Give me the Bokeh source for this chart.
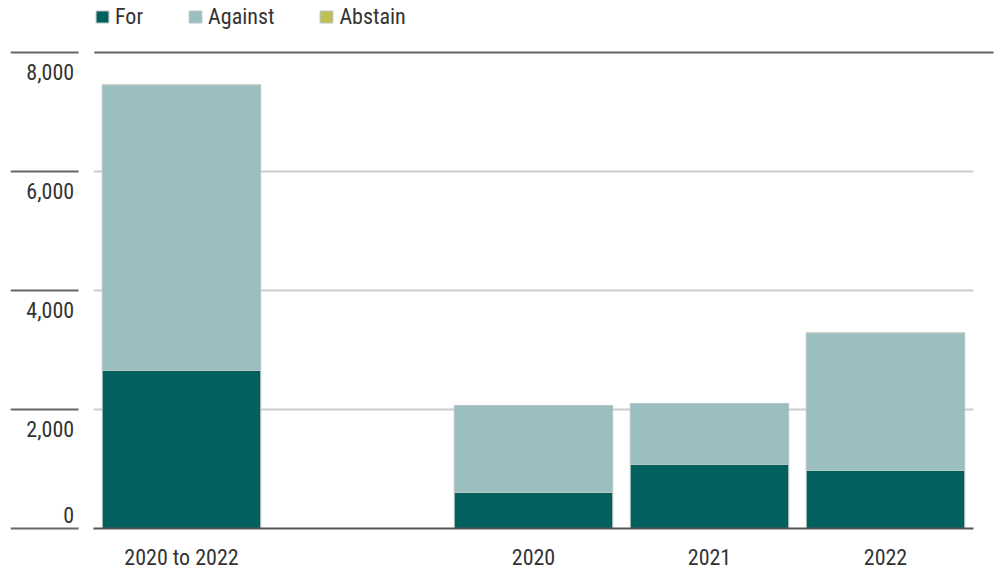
from bokeh.plotting import figure
from bokeh.models import ColumnDataSource, Range1d, FactorRange, Grid, FixedTicker
from bokeh.core.properties import value
from bokeh.embed import file_html
from bokeh.resources import INLINE

# ---- data ----
categories = ["2020 to 2022", "2020", "2021", "2022"]
axis_factors = ["2020 to 2022", " ", "2020", "2021", "2022"]
for_votes = [2656, 605, 1076, 975]
against_votes = [4789, 1462, 1025, 2302]
abstain_votes = [12, 0, 0, 12]
series = ["For", "Against", "Abstain"]
y_ticks = [0, 2000, 4000, 6000, 8000]
y_tick_labels = ["0", "2,000", "4,000", "6,000", "8,000"]

FONT = "'Liberation Sans Narrow', 'Roboto Condensed', 'Noto Sans Condensed', 'Open Sans Condensed', Roboto, sans-serif"
TEXT_COLOR = "#333333"
colors = ["#02605f", "#9bbec0", "#bec150"]

# plot frame reaches the top of the page so the legend sits inside it;
# the 8,000 rule sits 52px below the top, 476px above the baseline
PLOT_H = 528
Y_MAX = y_ticks[-1] * PLOT_H / 476.0

src = ColumnDataSource(dict(cat=categories, For=for_votes, Against=against_votes, Abstain=abstain_votes))

p = figure(x_range=FactorRange(*axis_factors, range_padding=0), y_range=Range1d(0, Y_MAX),
           width=998, height=572, output_backend="svg", toolbar_location=None,
           y_axis_location=None, min_border_left=93, min_border_right=25,
           min_border_top=0, min_border_bottom=44)
p.outline_line_color = None
p.xgrid.visible = False
p.ygrid.visible = False

grid = Grid(dimension=1, ticker=FixedTicker(ticks=[t for t in y_ticks if 0 < t < y_ticks[-1]]),
            grid_line_color="#cccccc", grid_line_width=2)
p.add_layout(grid)

p.vbar_stack(series, x="cat", width=0.9, source=src, fill_color=colors,
             line_color="#b8c4c4", line_width=1, legend_label=series)

# axis-side short tick rules and labels
n = len(y_ticks)
p.segment(x0=[-0.47] * n, y0=y_ticks, x1=[-0.085] * n, y1=y_ticks,
          line_color="#666666", line_width=2, level="annotation")
offsets = [-14 if t == 0 else 19.5 for t in y_ticks]
p.text(x=[-0.11] * n, y=y_ticks, text=y_tick_labels, y_offset=offsets,
       text_align="right", text_baseline="middle", text_font=value(FONT),
       text_font_size="22px", text_color=TEXT_COLOR, level="annotation")

# top rule (extends past frame) and baseline
p.segment(x0=[0.005], y0=[y_ticks[-1]], x1=[5.114], y1=[y_ticks[-1]], line_color="#606060",
          line_width=2, level="annotation")
p.segment(x0=[0], y0=[0], x1=[5], y1=[0], line_color="#555555",
          line_width=2, level="annotation")

xa = p.xaxis[0]
xa.axis_line_color = None
xa.major_tick_line_color = None
xa.minor_tick_line_color = None
xa.major_label_standoff = 10
xa.major_label_text_font = FONT
xa.major_label_text_font_size = "22px"
xa.major_label_text_color = TEXT_COLOR

lg = p.legend[0]
lg.orientation = "horizontal"
lg.location = (1, 499)
lg.margin = 0
lg.padding = 0
lg.border_line_color = None
lg.background_fill_alpha = 0
lg.glyph_width = 16
lg.glyph_height = 15
lg.label_height = 12
lg.label_standoff = 5
lg.spacing = 44
lg.label_text_font = FONT
lg.label_text_font_size = "22px"
lg.label_text_color = TEXT_COLOR
lg.label_text_baseline = "middle"

open("out.html", "w").write(file_html(p, INLINE))
